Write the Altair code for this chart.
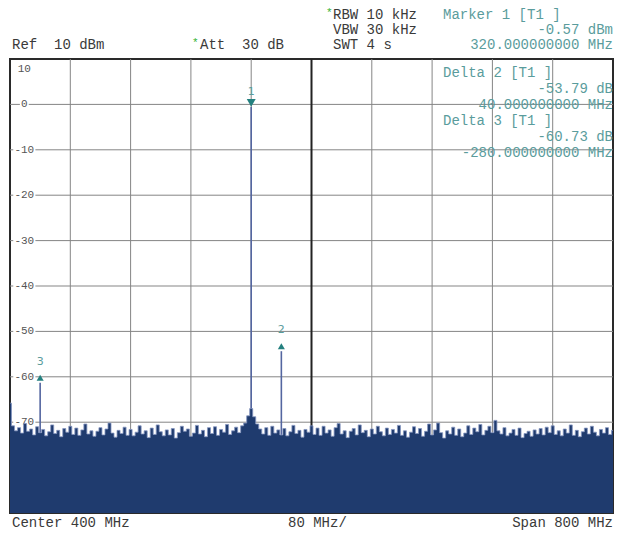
import altair as alt
import pandas as pd

FONT = "Liberation Mono"
TEAL_TXT = "#5a9c9c"
TEAL_MK = "#24807f"
DARK_TXT = "#3a3a3a"
FILL = "#1f3b6e"
NB = "\u00a0"

# ---- trace: noise floor (dBm), 0..800 MHz every 4 MHz
noise_dbm = [
    -65.8, -70.8, -71.9, -71.2, -72.4, -70.3, -72.0, -71.5, -72.8, -71.0,
    -72.3, -71.6, -73.0, -72.1, -70.6, -72.5, -71.8, -73.2, -71.4, -72.2,
    -70.9, -72.7, -71.3, -72.9, -71.7, -70.4, -72.6, -71.9, -73.1, -72.0,
    -71.2, -72.8, -71.5, -70.2, -72.4, -73.3, -71.8, -72.5, -71.1, -72.9,
    -71.6, -73.0, -72.2, -70.8, -72.6, -71.9, -73.4, -71.3, -72.7, -70.6,
    -72.1, -73.0, -71.7, -72.8, -71.4, -73.5, -72.3, -70.9, -72.0, -71.5,
    -73.1, -72.4, -70.7, -72.6, -71.8, -73.2, -71.2, -72.5, -71.0, -72.9,
    -71.6, -72.2, -70.5, -72.7, -71.9, -71.1, -72.3, -70.8, -70.2, -68.6,
    -67.0, -68.8, -70.4, -71.5, -72.6, -71.2, -72.9, -70.9, -72.4, -71.7,
    -72.8, -71.4, -73.0, -72.1, -70.7, -72.5, -71.8, -73.3, -71.6, -72.2,
    -70.8, -72.7, -71.3, -72.9, -70.9, -72.4, -71.7, -73.1, -71.2, -70.3,
    -72.6, -71.9, -73.4, -72.0, -71.4, -72.8, -70.6, -72.3, -71.8, -73.2,
    -71.5, -72.6, -70.9, -72.1, -73.0, -71.3, -72.7, -71.6, -72.4, -70.7,
    -72.9, -71.9, -73.3, -72.2, -71.0, -72.5, -71.4, -73.1, -72.0, -70.4,
    -72.8, -71.7, -70.2, -72.3, -73.5, -71.9, -72.6, -71.1, -72.9, -71.5,
    -73.2, -72.4, -70.8, -72.7, -71.3, -72.1, -70.5, -72.8, -71.8, -70.9,
    -72.3, -69.6, -71.9, -72.6, -71.2, -73.0, -72.4, -71.6, -72.9, -71.3,
    -73.4, -72.5, -72.0, -73.1, -71.7, -72.6, -71.4, -72.8, -71.1, -72.3,
    -70.8, -72.7, -71.9, -73.0, -71.5, -72.4, -70.6, -72.9, -71.8, -73.2,
    -72.1, -71.3, -72.6, -70.9, -72.2, -73.0, -71.6, -72.4, -71.2, -72.7,
    -71.8,
]
freq_mhz = list(range(0, 801, 4))
FLOOR = -90

# ---- markers
marker_ids = ["1", "2", "3"]
marker_freq = [320, 360, 40]
marker_level = [-0.57, -54.36, -61.30]
marker_shape = ["triangle-down", "triangle-up", "triangle-up"]

# ---- grid
x_grid = [80, 160, 240, 320, 480, 560, 640, 720]
x_center = [400]
y_grid = [0, -10, -20, -30, -40, -50, -60, -70, -80]
y_label_vals = [0, -10, -20, -30, -40, -50, -60, -70]
y_label_txt = ["0", "-10", "-20", "-30", "-40", "-50", "-60", "-70"]
Y_LABEL_X = 19  # MHz

XS = alt.Scale(domain=[0, 800], nice=False, zero=False)
YS = alt.Scale(domain=[FLOOR, 10], nice=False, zero=False)

trace = pd.DataFrame({"f": freq_mhz, "lvl": noise_dbm, "floor": [FLOOR] * len(freq_mhz)})
markers = pd.DataFrame({"id": marker_ids, "f": marker_freq, "lvl": marker_level,
                        "shape": marker_shape, "floor": [FLOOR] * 3})
vgrid = pd.DataFrame({"f": x_grid})
cgrid = pd.DataFrame({"f": x_center})
hgrid = pd.DataFrame({"lvl": y_grid})
ylab = pd.DataFrame({"lvl": y_label_vals, "t": y_label_txt})
ylab["half"] = ylab["t"].str.len() * 4.4 + 1.5
ylab["x0"] = Y_LABEL_X - ylab["half"]
ylab["x1"] = Y_LABEL_X + ylab["half"]
ylab["y0"] = ylab["lvl"] - 1.1
ylab["y1"] = ylab["lvl"] + 1.1
ylab["fx"] = Y_LABEL_X

enc_x = lambda f: alt.X(f, scale=XS, axis=None)
enc_y = lambda f: alt.Y(f, scale=YS, axis=None)

layers = []
layers.append(alt.Chart(vgrid).mark_rule(color="#858585", strokeWidth=1).encode(x=enc_x("f:Q")))
layers.append(alt.Chart(hgrid).mark_rule(color="#858585", strokeWidth=1).encode(y=enc_y("lvl:Q")))
layers.append(alt.Chart(cgrid).mark_rule(color="#222222", strokeWidth=2).encode(x=enc_x("f:Q")))
# y labels with white backing
layers.append(alt.Chart(ylab).mark_rect(color="white").encode(
    x=enc_x("x0:Q"), x2="x1:Q", y=enc_y("y0:Q"), y2="y1:Q"))
layers.append(alt.Chart(ylab).mark_text(font=FONT, fontSize=11, color="#555555",
                                        align="center", baseline="middle").encode(
    x=enc_x("fx:Q"), y=enc_y("lvl:Q"), text="t:N"))
layers.append(alt.Chart(pd.DataFrame({"lvl": [10], "t": ["10"], "fx": [Y_LABEL_X]})).mark_text(
    font=FONT, fontSize=11, color="#555555", align="center", baseline="top", dy=4).encode(
    x=enc_x("fx:Q"), y=enc_y("lvl:Q"), text="t:N"))
# marker spikes in the trace
layers.append(alt.Chart(markers).mark_rule(color="#5466a0", strokeWidth=1.6).encode(
    x=enc_x("f:Q"), y=enc_y("floor:Q"), y2="lvl:Q"))
# trace
layers.append(alt.Chart(trace).mark_area(color=FILL, interpolate="step").encode(
    x=enc_x("f:Q"), y=enc_y("lvl:Q"), y2="floor:Q"))
layers.append(alt.Chart(trace).mark_line(color="#8595c0", strokeWidth=0.8, interpolate="step").encode(
    x=enc_x("f:Q"), y=enc_y("lvl:Q")))
# markers
m1 = markers[markers["shape"] == "triangle-down"]
mup = markers[markers["shape"] == "triangle-up"]
layers.append(alt.Chart(m1).mark_point(shape="triangle-down", filled=True, opacity=1,
                                       color=TEAL_MK, size=80, yOffset=-4).encode(
    x=enc_x("f:Q"), y=enc_y("lvl:Q")))
layers.append(alt.Chart(mup).mark_point(shape="triangle-up", filled=True, opacity=1,
                                        color=TEAL_MK, size=50, yOffset=-5).encode(
    x=enc_x("f:Q"), y=enc_y("lvl:Q")))
layers.append(alt.Chart(m1).mark_text(font="DejaVu Sans", fontSize=11, color=TEAL_TXT,
                                      baseline="middle", dy=-15).encode(
    x=enc_x("f:Q"), y=enc_y("lvl:Q"), text="id:N"))
layers.append(alt.Chart(mup).mark_text(font="DejaVu Sans", fontSize=11, color=TEAL_TXT,
                                       baseline="middle", dy=-21).encode(
    x=enc_x("f:Q"), y=enc_y("lvl:Q"), text="id:N"))

one = pd.DataFrame({"a": [0]})


def label(text, x, y, color=DARK_TXT, align="left", size=14):
    return alt.Chart(one).mark_text(text=text.replace(" ", NB), align=align, baseline="middle",
                                    font=FONT, fontSize=size, color=color).encode(
        x=alt.value(x), y=alt.value(y))


R = 603
texts = [
    label("Ref  10 dBm", 2, -14),
    label("*", 182, -16, color="#33b233", size=11),
    label("Att  30 dB", 190, -14),
    label("*", 316, -46, color="#33b233", size=11),
    label("RBW 10 kHz", 323, -44),
    label("VBW 30 kHz", 323, -29),
    label("SWT 4 s", 323, -14),
    label("Marker 1 [T1 ]", 433, -44, color=TEAL_TXT),
    label("-0.57 dBm", R, -29, color=TEAL_TXT, align="right"),
    label("320.000000000 MHz", R, -14, color=TEAL_TXT, align="right"),
    label("Delta 2 [T1 ]", 433, 14, color=TEAL_TXT),
    label("-53.79 dB", R, 30, color=TEAL_TXT, align="right"),
    label("40.000000000 MHz", R, 46, color=TEAL_TXT, align="right"),
    label("Delta 3 [T1 ]", 433, 62, color=TEAL_TXT),
    label("-60.73 dB", R, 78, color=TEAL_TXT, align="right"),
    label("-280.000000000 MHz", R, 94, color=TEAL_TXT, align="right"),
    label("Center 400 MHz", 2, 464),
    label("80 MHz/", 278, 464),
    label("Span 800 MHz", R, 464, align="right"),
]

chart = alt.layer(*layers, *texts).properties(
    width=603, height=454,
    autosize=alt.AutoSizeParams(type="none"),
    padding={"left": 2, "top": 51, "right": 1, "bottom": 19},
    background="white",
).configure_view(stroke="#2a2a2a", strokeWidth=2)

chart.save("out.html", embed_options={"renderer": "svg", "actions": False})
